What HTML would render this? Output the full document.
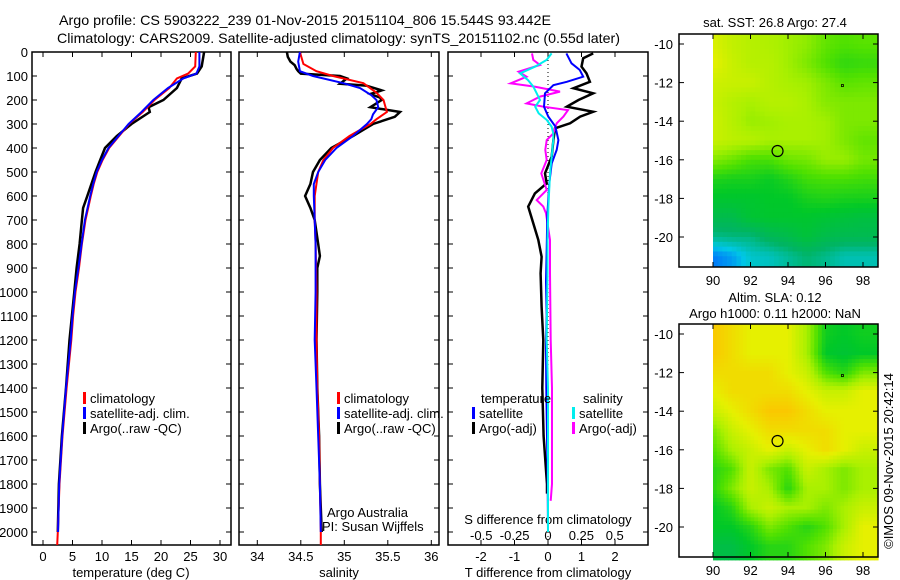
<!DOCTYPE html>
<html><head><meta charset="utf-8"><style>
html,body{margin:0;padding:0;background:#fff;}
svg{display:block;font-family:"Liberation Sans",sans-serif;}
text{font-size:13px;fill:#000;}
</style></head>
<body>
<svg id="fig" width="900" height="580" viewBox="0 0 900 580" xmlns="http://www.w3.org/2000/svg">
<text x="59" y="25" textLength="492" lengthAdjust="spacingAndGlyphs" style="font-size:14px">Argo profile: CS 5903222_239 01-Nov-2015 20151104_806 15.544S 93.442E</text>
<text x="57" y="43" textLength="563" lengthAdjust="spacingAndGlyphs" style="font-size:14px">Climatology: CARS2009. Satellite-adjusted climatology: synTS_20151102.nc (0.55d later)</text>
<g id="g"></g>
</svg>
<script>
// ---------- temperature panel data ----------
const climTDepth=[0,60,90,110,150,200,250,300,350,400,450,500,550,600,700,800,900,1000,1100,1200,1400,1600,1800,2000,2054];
const climT=[25.9,25.8,24.6,22.7,21.4,18.9,16.9,14.6,12.9,11.2,10.1,9.2,8.6,8.1,7.2,6.6,6.1,5.5,5.1,4.8,4.0,3.3,2.8,2.5,2.4];
const satTDepth=[0,60,90,110,150,200,250,300,350,400,450,500,550,600,700,800,900,1000,1100,1200,1400,1600,1800,2000];
const satT=[26.5,26.5,26.0,23.8,21.2,18.7,16.7,14.5,12.8,11.1,10.0,9.1,8.5,8.0,7.1,6.55,6.0,5.4,5.0,4.7,3.9,3.25,2.75,2.55];
const argoTDepth=[0,60,90,110,150,200,230,250,300,350,400,450,500,600,650,700,800,900,1000,1100,1200,1400,1600,1800,2000];
const argoT=[27.3,26.9,26.1,23.5,22.7,20.4,17.9,18.1,15.0,12.5,10.5,9.7,8.9,7.5,6.8,6.6,6.2,5.7,5.3,4.9,4.5,3.9,3.2,2.7,2.5];
const tTicks=[0,5,10,15,20,25,30];
// ---------- salinity panel data ----------
const argoSDepth=[0,20,40,55,70,80,90,100,110,132,140,160,175,190,200,230,250,270,300,350,400,450,500,550,600,650,700,800,850,900,1000,1200,1400,1600,1800,2000];
const argoS=[34.34,34.35,34.38,34.43,34.45,34.47,34.50,34.95,35.03,34.95,35.25,35.43,35.30,35.41,35.43,35.30,35.64,35.58,35.33,35.10,34.85,34.72,34.64,34.61,34.55,34.61,34.66,34.70,34.72,34.69,34.69,34.68,34.69,34.71,34.72,34.74];
const satSDepth=[0,40,80,100,130,150,180,200,230,260,280,300,350,400,450,500,550,600,700,800,1000,1200,1400,1600,1800,2000];
const satS=[34.49,34.47,34.49,34.64,34.99,35.18,35.31,35.37,35.39,35.33,35.31,35.26,35.10,34.91,34.78,34.70,34.65,34.65,34.66,34.67,34.67,34.66,34.68,34.70,34.72,34.73];
const climSDepth=[0,50,80,100,130,170,200,250,280,300,350,400,450,500,600,700,800,1000,1200,1400,1600,1800,2000,2054];
const climS=[34.49,34.53,34.68,34.87,35.22,35.37,35.45,35.49,35.37,35.30,35.06,34.87,34.76,34.70,34.66,34.66,34.67,34.68,34.68,34.69,34.71,34.72,34.73,34.73];
const sTicks=[34,34.5,35,35.5,36];
// ---------- difference panel data ----------
const tdSatDepth=[6,47,75,103,124,138,172,228,269,311,367,408,464,547,681,819,958,1097,1231,1400,1600,1800,2000];
const tdSat=[0.55,0.70,0.95,1.05,0.56,0.16,-0.09,-0.12,0.01,0.22,0.31,0.26,0.11,0.04,-0.02,-0.04,-0.06,-0.04,-0.06,-0.05,-0.03,-0.01,0.0];
const tdArgoDepth=[6,26,61,89,124,151,172,200,228,249,269,297,318,367,436,506,547,589,644,714,783,853,922,1061,1200,1400,1600,1800,1840];
const tdArgo=[1.35,1.05,1.0,1.15,1.25,0.76,1.35,0.91,0.56,1.35,0.96,0.66,0.21,0.16,0.11,-0.09,-0.04,-0.39,-0.59,-0.44,-0.29,-0.19,-0.22,-0.19,-0.14,-0.17,-0.13,-0.03,-0.03];
const sdSatDepth=[6,33,61,89,117,144,172,200,228,256,283,311,339,367,506,644,783,922,1200,1400,1600,1800,2000];
const sdSat=[0.027,-0.01,-0.096,-0.21,-0.15,-0.11,-0.085,-0.06,-0.096,-0.07,-0.01,0.027,0.04,0.04,0.015,0.003,-0.004,-0.004,-0.01,0.0,0.0,0.0,0.0];
const sdArgoDepth=[6,33,54,82,103,131,144,165,186,214,228,242,269,297,339,367,408,450,506,575,617,644,672,783,922,1200,1400,1600,1800,1870];
const sdArgo=[-0.12,-0.11,-0.06,-0.22,-0.16,-0.28,-0.10,0.09,-0.06,-0.16,-0.035,0.15,0.115,0.065,0.04,-0.01,-0.02,-0.01,-0.05,-0.01,-0.085,-0.035,-0.015,0.015,0.015,0.02,0.03,0.03,0.03,0.02];
const tdTicks=[-2,-1,0,1,2];
const sdTicks=[-0.5,-0.25,0,0.25,0.5];
const sdTickLabels=["-0.5","-0.25","0","0.25","0.5"];
const depthTicks=[0,100,200,300,400,500,600,700,800,900,1000,1100,1200,1300,1400,1500,1600,1700,1800,1900,2000];
// ---------- map data (colour level 0..7, rows lat -10..-21, cols lon 90..98) ----------
const mapLats=[-10,-11,-12,-13,-14,-15,-16,-17,-18,-19,-20,-21];
const mapLons=[90,91,92,93,94,95,96,97,98];
const sstGrid=[
[5.8,5.4,5.2,5.1,4.9,4.7,4.2,4.0,4.1],
[6.0,5.5,5.2,5.2,4.9,4.5,4.0,3.6,3.7],
[5.6,5.5,5.5,5.2,5.0,4.9,4.5,4.1,4.2],
[5.5,5.2,5.0,5.2,5.2,5.0,4.6,4.5,4.5],
[5.6,5.2,4.8,4.9,5.0,5.0,4.9,4.5,4.5],
[5.5,5.3,5.2,5.0,5.0,5.0,4.9,4.5,4.2],
[4.6,4.3,3.9,3.9,4.3,4.4,4.8,4.8,4.4],
[3.4,3.3,3.3,3.1,3.4,3.8,3.9,3.9,3.8],
[2.9,2.9,2.9,3.0,3.0,3.3,3.4,3.3,3.3],
[2.4,2.4,2.8,2.9,2.9,2.9,2.8,2.7,2.6],
[1.7,1.8,1.8,2.2,2.4,2.7,2.4,2.3,2.3],
[0.3,0.6,1.2,1.3,1.6,1.9,1.7,1.4,1.4]];
const slaGrid=[
[7,6.5,6,6,6,5,3.2,3,3.2],
[7,6.5,6,6,6,5,3,2.8,3],
[6.5,6.5,6.5,6.5,6,5.5,4,3.5,4.5],
[6,6.5,6.5,6.5,6.5,6,5.5,5.5,6],
[5.5,6,6.5,7,7,6.5,6,6,6],
[4.5,5.5,6,6.5,6.5,6.5,6.5,6,6],
[4,5,5.5,6,5.5,6,6.5,6,5.5],
[3.5,4,5.5,4.5,4,5.5,5,4.5,5],
[3.5,4.5,5.5,5,3.5,5,5,4.5,5],
[3,3.5,5,5.5,5,5,4.5,5,5.5],
[3,3,3.5,4.5,4,3.5,4,5,6],
[2.5,2.5,3,3.5,3.5,4,4.5,5.5,6]];
const mapLonTicks=[90,92,94,96,98];
const mapLatTicks=[-10,-12,-14,-16,-18,-20];
const argoLon=93.442, argoLat=-15.544;

const NS="http://www.w3.org/2000/svg";
const G=document.getElementById('g');
function mk(tag,attrs,parent){const e=document.createElementNS(NS,tag);for(const k in attrs)e.setAttribute(k,attrs[k]);(parent||G).appendChild(e);return e;}
function txt(x,y,s,anchor,parent,size){const e=mk('text',{x:x,y:y,'text-anchor':anchor||'start'},parent);if(size)e.style.fontSize=size+'px';e.textContent=s;return e;}

const PT=52, PB=545;
const yD=d=>PT+d*0.24;
const xT=v=>43+v*5.9;
const xS=v=>257.3+(v-34)*87;
const xTd=v=>548+v*33.5;
const xSd=v=>548+v*133.5;
const panels=[{l:32,r:231,name:'temperature-panel'},{l:239,r:439,name:'salinity-panel'},{l:448,r:648,name:'difference-panel'}];

panels.forEach((p,i)=>{
  const fr=mk('rect',{x:p.l,y:PT,width:p.r-p.l,height:PB-PT,fill:'none',stroke:'#000','stroke-width':1.5});
  
  
  depthTicks.forEach(d=>{
    mk('line',{x1:p.l,x2:p.l+5,y1:yD(d),y2:yD(d),stroke:'#000'});
    mk('line',{x1:p.r-5,x2:p.r,y1:yD(d),y2:yD(d),stroke:'#000'});
  });
});
depthTicks.forEach(d=>{
  const t=txt(28,yD(d)+5,String(d),'end');
  
  
});
function xticks(vals,fx,labels,ylab,name){
  vals.forEach((v,i)=>{
    mk('line',{x1:fx(v),x2:fx(v),y1:PB,y2:PB-5,stroke:'#000'});
    mk('line',{x1:fx(v),x2:fx(v),y1:PT,y2:PT+5,stroke:'#000'});
    if(ylab){const t=txt(fx(v),ylab,labels?labels[i]:String(v),'middle');
      
      }
  });
}
xticks(tTicks,xT,null,561,'temperature-tick-label');
xticks(sTicks,xS,null,561,'salinity-tick-label');
xticks(tdTicks,xTd,null,561,'t-diff-tick-label');
sdTicks.forEach((v,i)=>{const t=txt(xSd(v),540,sdTickLabels[i],'middle');
  
  });
[[131,'temperature (deg C)','x-axis-title-temperature'],[339,'salinity','x-axis-title-salinity'],[548,'T difference from climatology','x-axis-title-t-diff'],[548,'S difference from climatology','s-diff-axis-title']].forEach((a,i)=>{
  const t=txt(a[0],i==3?524:577,a[1],'middle');
  
  
});
const zl=mk('line',{x1:548,x2:548,y1:PT,y2:PB,stroke:'#000','stroke-dasharray':'1,3'});



function series(depths,vals,fx,color,w,name){
  const pts=depths.map((d,i)=>fx(vals[i]).toFixed(1)+','+yD(d).toFixed(1)).join(' ');
  const e=mk('polyline',{points:pts,fill:'none',stroke:color,'stroke-width':w,'stroke-linejoin':'miter'});
  
  
}
series(argoTDepth,argoT,xT,'#000',2.5,'argo-temperature-line');
series(climTDepth,climT,xT,'#f00',2,'climatology-temperature-line');
series(satTDepth,satT,xT,'#00f',2,'satellite-temperature-line');
series(argoSDepth,argoS,xS,'#000',2.5,'argo-salinity-line');
series(climSDepth,climS,xS,'#f00',2,'climatology-salinity-line');
series(satSDepth,satS,xS,'#00f',2,'satellite-salinity-line');
series(tdArgoDepth,tdArgo,xTd,'#000',2.5,'argo-t-diff-line');
series(sdArgoDepth,sdArgo,xSd,'#f0f',2,'argo-s-diff-line');
series(tdSatDepth,tdSat,xTd,'#00f',2,'satellite-t-diff-line');
series(sdSatDepth,sdSat,xSd,'#0ee',2,'satellite-s-diff-line');

function legend(x,y,color,label){
  const b=mk('rect',{x:x,y:y-11,width:3,height:12,fill:color});
  
  
  const t=txt(x+7,y,label,'start');
  
  
}
legend(83,403,'#f00','climatology');legend(83,418,'#00f','satellite-adj. clim.');legend(83,433,'#000','Argo(..raw -QC)');
legend(337,403,'#f00','climatology');legend(337,418,'#00f','satellite-adj. clim.');legend(337,433,'#000','Argo(..raw -QC)');
legend(472,418,'#00f','satellite');legend(472,433,'#000','Argo(-adj)');
legend(572,418,'#0ee','satellite');legend(572,433,'#f0f','Argo(-adj)');
let t;
t=txt(481,403,'temperature');
t=txt(583,403,'salinity');
t=txt(327,517,'Argo Australia');
t=txt(322,531,'PI: Susan Wijffels');

// ---------- maps ----------
const cstops=[[0,90,255],[0,200,230],[0,180,100],[0,200,40],[80,225,0],[170,240,0],[230,240,0],[250,200,0]];
function cmap(v){v=Math.max(0,Math.min(7,v));const i=Math.min(6,Math.floor(v)),f=v-i;const a=cstops[i],b=cstops[i+1];
  return 'rgb('+a.map((c,k)=>Math.round(c+(b[k]-c)*f)).join(',')+')';}
function sample(grid,lon,lat){
  let c=Math.max(0,Math.min(8,lon-90)), r=Math.max(0,Math.min(11,-10-lat));
  const c0=Math.min(7,Math.floor(c)),r0=Math.min(10,Math.floor(r)),fc=c-c0,fr=r-r0;
  const a=grid[r0][c0],b=grid[r0][c0+1],c1=grid[r0+1][c0],d=grid[r0+1][c0+1];
  return a*(1-fc)*(1-fr)+b*fc*(1-fr)+c1*(1-fc)*fr+d*fc*fr;
}
function drawMap(grid,top,name,cell){
  const xL=lon=>713+(lon-90)*18.75;
  const yL=lat=>top+10+(-10-lat)*19.3;
  const mg=mk('g',{});
  
  
  for(let lat=-9.5;lat>-21.5;lat-=cell){
    for(let lon=90;lon<98.75;lon+=cell){
      const v=sample(grid,lon+cell/2,lat-cell/2);
      mk('rect',{x:xL(lon).toFixed(2),y:yL(lat).toFixed(2),width:(cell*18.75+0.6).toFixed(2),height:(cell*19.3+0.6).toFixed(2),fill:cmap(v)},mg);
    }
  }
  const fr=mk('rect',{x:679,y:top,width:199,height:233,fill:'none',stroke:'#000','stroke-width':1.5});
  
  
  mapLonTicks.forEach(v=>{
    mk('line',{x1:xL(v),x2:xL(v),y1:top+233,y2:top+228,stroke:'#000'});
    mk('line',{x1:xL(v),x2:xL(v),y1:top,y2:top+5,stroke:'#000'});
    const t=txt(xL(v),top+251,String(v),'middle');
    
    
  });
  mapLatTicks.forEach(v=>{
    mk('line',{x1:679,x2:684,y1:yL(v),y2:yL(v),stroke:'#000'});
    mk('line',{x1:873,x2:878,y1:yL(v),y2:yL(v),stroke:'#000'});
    const t=txt(673,yL(v)+5,String(v),'end');
    
    
  });
  const c=mk('circle',{cx:xL(argoLon),cy:yL(argoLat),r:5.5,fill:'none',stroke:'#000','stroke-width':1.2});
  
  
  mk('rect',{x:xL(96.85),y:yL(-12.1),width:2,height:2,fill:'none',stroke:'#000','stroke-width':0.8});
}
drawMap(sstGrid,34,'sst-map',0.25);
drawMap(slaGrid,324,'sla-map',0.2);
t=txt(775,27,'sat. SST: 26.8 Argo: 27.4','middle');
t=txt(775,302,'Altim. SLA: 0.12','middle');
t=txt(775,318,'Argo h1000: 0.11 h2000: NaN','middle');
t=txt(0,0,'©IMOS 09-Nov-2015 20:42:14','middle');
t.setAttribute('transform','translate(893,461) rotate(-90)');


</script>
</body></html>
